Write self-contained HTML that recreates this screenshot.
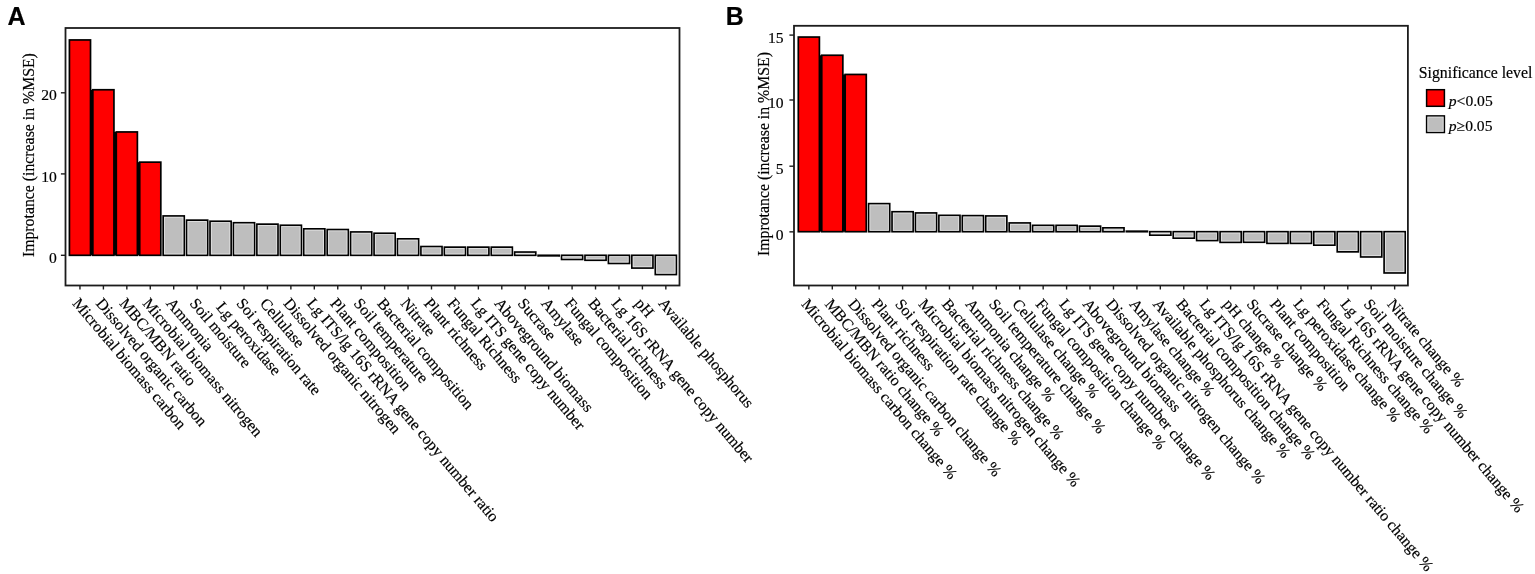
<!DOCTYPE html>
<html><head><meta charset="utf-8"><title>Variable importance</title>
<style>html,body{margin:0;padding:0;background:#fff;}svg text{stroke:#000;stroke-width:0.18px;}body{width:1535px;height:574px;overflow:hidden;}svg{display:block;}</style>
</head><body>
<svg width="1535" height="574" viewBox="0 0 1535 574" font-family="'Liberation Serif','Times New Roman',serif">
<rect width="1535" height="574" fill="#fff"/>
<text x="7.4" y="25.0" font-family="'Liberation Sans',Arial,sans-serif" font-weight="bold" font-size="25">A</text>
<text x="725.8" y="25.0" font-family="'Liberation Sans',Arial,sans-serif" font-weight="bold" font-size="25">B</text>
<g>
<rect x="69.42" y="39.95" width="21.09" height="215.35" fill="#ff0000" stroke="#000" stroke-width="1.7"/>
<rect x="90.51" y="89.75" width="2.34" height="165.55" fill="#000"/>
<rect x="92.85" y="89.75" width="21.09" height="165.55" fill="#ff0000" stroke="#000" stroke-width="1.7"/>
<rect x="113.94" y="131.95" width="2.34" height="123.35" fill="#000"/>
<rect x="116.29" y="131.95" width="21.09" height="123.35" fill="#ff0000" stroke="#000" stroke-width="1.7"/>
<rect x="137.38" y="162.15" width="2.34" height="93.15" fill="#000"/>
<rect x="139.72" y="162.15" width="21.09" height="93.15" fill="#ff0000" stroke="#000" stroke-width="1.7"/>
<rect x="163.16" y="215.95" width="21.09" height="39.35" fill="#bebebe" stroke="#000" stroke-width="1.7"/>
<rect x="164.46" y="217.25" width="18.49" height="36.75" fill="none" stroke="#fff" stroke-opacity="0.55" stroke-width="0.9"/>
<rect x="186.59" y="220.15" width="21.09" height="35.15" fill="#bebebe" stroke="#000" stroke-width="1.7"/>
<rect x="187.89" y="221.45" width="18.49" height="32.55" fill="none" stroke="#fff" stroke-opacity="0.55" stroke-width="0.9"/>
<rect x="210.03" y="221.25" width="21.09" height="34.05" fill="#bebebe" stroke="#000" stroke-width="1.7"/>
<rect x="211.33" y="222.55" width="18.49" height="31.45" fill="none" stroke="#fff" stroke-opacity="0.55" stroke-width="0.9"/>
<rect x="233.46" y="222.75" width="21.09" height="32.55" fill="#bebebe" stroke="#000" stroke-width="1.7"/>
<rect x="234.76" y="224.05" width="18.49" height="29.95" fill="none" stroke="#fff" stroke-opacity="0.55" stroke-width="0.9"/>
<rect x="256.90" y="224.15" width="21.09" height="31.15" fill="#bebebe" stroke="#000" stroke-width="1.7"/>
<rect x="258.20" y="225.45" width="18.49" height="28.55" fill="none" stroke="#fff" stroke-opacity="0.55" stroke-width="0.9"/>
<rect x="280.33" y="225.25" width="21.09" height="30.05" fill="#bebebe" stroke="#000" stroke-width="1.7"/>
<rect x="281.63" y="226.55" width="18.49" height="27.45" fill="none" stroke="#fff" stroke-opacity="0.55" stroke-width="0.9"/>
<rect x="303.77" y="228.85" width="21.09" height="26.45" fill="#bebebe" stroke="#000" stroke-width="1.7"/>
<rect x="305.07" y="230.15" width="18.49" height="23.85" fill="none" stroke="#fff" stroke-opacity="0.55" stroke-width="0.9"/>
<rect x="327.20" y="229.55" width="21.09" height="25.75" fill="#bebebe" stroke="#000" stroke-width="1.7"/>
<rect x="328.50" y="230.85" width="18.49" height="23.15" fill="none" stroke="#fff" stroke-opacity="0.55" stroke-width="0.9"/>
<rect x="350.64" y="231.95" width="21.09" height="23.35" fill="#bebebe" stroke="#000" stroke-width="1.7"/>
<rect x="351.94" y="233.25" width="18.49" height="20.75" fill="none" stroke="#fff" stroke-opacity="0.55" stroke-width="0.9"/>
<rect x="374.07" y="233.25" width="21.09" height="22.05" fill="#bebebe" stroke="#000" stroke-width="1.7"/>
<rect x="375.37" y="234.55" width="18.49" height="19.45" fill="none" stroke="#fff" stroke-opacity="0.55" stroke-width="0.9"/>
<rect x="397.51" y="238.85" width="21.09" height="16.45" fill="#bebebe" stroke="#000" stroke-width="1.7"/>
<rect x="398.81" y="240.15" width="18.49" height="13.85" fill="none" stroke="#fff" stroke-opacity="0.55" stroke-width="0.9"/>
<rect x="420.94" y="246.55" width="21.09" height="8.75" fill="#bebebe" stroke="#000" stroke-width="1.7"/>
<rect x="422.24" y="247.85" width="18.49" height="6.15" fill="none" stroke="#fff" stroke-opacity="0.55" stroke-width="0.9"/>
<rect x="444.38" y="247.15" width="21.09" height="8.15" fill="#bebebe" stroke="#000" stroke-width="1.7"/>
<rect x="445.68" y="248.45" width="18.49" height="5.55" fill="none" stroke="#fff" stroke-opacity="0.55" stroke-width="0.9"/>
<rect x="467.81" y="247.15" width="21.09" height="8.15" fill="#bebebe" stroke="#000" stroke-width="1.7"/>
<rect x="469.11" y="248.45" width="18.49" height="5.55" fill="none" stroke="#fff" stroke-opacity="0.55" stroke-width="0.9"/>
<rect x="491.25" y="247.15" width="21.09" height="8.15" fill="#bebebe" stroke="#000" stroke-width="1.7"/>
<rect x="492.55" y="248.45" width="18.49" height="5.55" fill="none" stroke="#fff" stroke-opacity="0.55" stroke-width="0.9"/>
<rect x="514.68" y="252.05" width="21.09" height="3.25" fill="#bebebe" stroke="#000" stroke-width="1.7"/>
<rect x="515.98" y="253.35" width="18.49" height="0.65" fill="none" stroke="#fff" stroke-opacity="0.55" stroke-width="0.9"/>
<rect x="538.12" y="255.30" width="21.09" height="0.60" fill="#bebebe" stroke="#000" stroke-width="1.7"/>
<rect x="538.97" y="256.15" width="19.39" height="0.20" fill="#fff" fill-opacity="0.55"/>
<rect x="561.55" y="255.30" width="21.09" height="4.15" fill="#bebebe" stroke="#000" stroke-width="1.7"/>
<rect x="562.85" y="256.60" width="18.49" height="1.55" fill="none" stroke="#fff" stroke-opacity="0.55" stroke-width="0.9"/>
<rect x="584.99" y="255.30" width="21.09" height="4.95" fill="#bebebe" stroke="#000" stroke-width="1.7"/>
<rect x="586.29" y="256.60" width="18.49" height="2.35" fill="none" stroke="#fff" stroke-opacity="0.55" stroke-width="0.9"/>
<rect x="608.42" y="255.30" width="21.09" height="8.15" fill="#bebebe" stroke="#000" stroke-width="1.7"/>
<rect x="609.72" y="256.60" width="18.49" height="5.55" fill="none" stroke="#fff" stroke-opacity="0.55" stroke-width="0.9"/>
<rect x="631.86" y="255.30" width="21.09" height="12.75" fill="#bebebe" stroke="#000" stroke-width="1.7"/>
<rect x="633.16" y="256.60" width="18.49" height="10.15" fill="none" stroke="#fff" stroke-opacity="0.55" stroke-width="0.9"/>
<rect x="655.29" y="255.30" width="21.09" height="19.25" fill="#bebebe" stroke="#000" stroke-width="1.7"/>
<rect x="656.59" y="256.60" width="18.49" height="16.65" fill="none" stroke="#fff" stroke-opacity="0.55" stroke-width="0.9"/>
<rect x="65.5" y="28.0" width="614.00" height="257.50" fill="none" stroke="#1c1c1c" stroke-width="1.8"/>
<line x1="79.96" y1="285.5" x2="79.96" y2="289.50" stroke="#1c1c1c" stroke-width="1.4"/>
<line x1="103.40" y1="285.5" x2="103.40" y2="289.50" stroke="#1c1c1c" stroke-width="1.4"/>
<line x1="126.83" y1="285.5" x2="126.83" y2="289.50" stroke="#1c1c1c" stroke-width="1.4"/>
<line x1="150.27" y1="285.5" x2="150.27" y2="289.50" stroke="#1c1c1c" stroke-width="1.4"/>
<line x1="173.70" y1="285.5" x2="173.70" y2="289.50" stroke="#1c1c1c" stroke-width="1.4"/>
<line x1="197.14" y1="285.5" x2="197.14" y2="289.50" stroke="#1c1c1c" stroke-width="1.4"/>
<line x1="220.57" y1="285.5" x2="220.57" y2="289.50" stroke="#1c1c1c" stroke-width="1.4"/>
<line x1="244.01" y1="285.5" x2="244.01" y2="289.50" stroke="#1c1c1c" stroke-width="1.4"/>
<line x1="267.44" y1="285.5" x2="267.44" y2="289.50" stroke="#1c1c1c" stroke-width="1.4"/>
<line x1="290.88" y1="285.5" x2="290.88" y2="289.50" stroke="#1c1c1c" stroke-width="1.4"/>
<line x1="314.31" y1="285.5" x2="314.31" y2="289.50" stroke="#1c1c1c" stroke-width="1.4"/>
<line x1="337.75" y1="285.5" x2="337.75" y2="289.50" stroke="#1c1c1c" stroke-width="1.4"/>
<line x1="361.18" y1="285.5" x2="361.18" y2="289.50" stroke="#1c1c1c" stroke-width="1.4"/>
<line x1="384.62" y1="285.5" x2="384.62" y2="289.50" stroke="#1c1c1c" stroke-width="1.4"/>
<line x1="408.05" y1="285.5" x2="408.05" y2="289.50" stroke="#1c1c1c" stroke-width="1.4"/>
<line x1="431.49" y1="285.5" x2="431.49" y2="289.50" stroke="#1c1c1c" stroke-width="1.4"/>
<line x1="454.92" y1="285.5" x2="454.92" y2="289.50" stroke="#1c1c1c" stroke-width="1.4"/>
<line x1="478.36" y1="285.5" x2="478.36" y2="289.50" stroke="#1c1c1c" stroke-width="1.4"/>
<line x1="501.79" y1="285.5" x2="501.79" y2="289.50" stroke="#1c1c1c" stroke-width="1.4"/>
<line x1="525.23" y1="285.5" x2="525.23" y2="289.50" stroke="#1c1c1c" stroke-width="1.4"/>
<line x1="548.66" y1="285.5" x2="548.66" y2="289.50" stroke="#1c1c1c" stroke-width="1.4"/>
<line x1="572.10" y1="285.5" x2="572.10" y2="289.50" stroke="#1c1c1c" stroke-width="1.4"/>
<line x1="595.53" y1="285.5" x2="595.53" y2="289.50" stroke="#1c1c1c" stroke-width="1.4"/>
<line x1="618.97" y1="285.5" x2="618.97" y2="289.50" stroke="#1c1c1c" stroke-width="1.4"/>
<line x1="642.40" y1="285.5" x2="642.40" y2="289.50" stroke="#1c1c1c" stroke-width="1.4"/>
<line x1="665.84" y1="285.5" x2="665.84" y2="289.50" stroke="#1c1c1c" stroke-width="1.4"/>
<line x1="60.90" y1="255.3" x2="65.5" y2="255.3" stroke="#1c1c1c" stroke-width="1.4"/>
<text x="56.8" y="262.95" text-anchor="end" font-size="15.6">0</text>
<line x1="60.90" y1="173.9" x2="65.5" y2="173.9" stroke="#1c1c1c" stroke-width="1.4"/>
<text x="56.8" y="181.55" text-anchor="end" font-size="15.6">10</text>
<line x1="60.90" y1="92.8" x2="65.5" y2="92.8" stroke="#1c1c1c" stroke-width="1.4"/>
<text x="56.8" y="100.45" text-anchor="end" font-size="15.6">20</text>
</g>
<g>
<rect x="798.31" y="37.05" width="21.09" height="194.65" fill="#ff0000" stroke="#000" stroke-width="1.7"/>
<rect x="819.40" y="55.25" width="2.34" height="176.45" fill="#000"/>
<rect x="821.75" y="55.25" width="21.09" height="176.45" fill="#ff0000" stroke="#000" stroke-width="1.7"/>
<rect x="842.83" y="74.45" width="2.34" height="157.25" fill="#000"/>
<rect x="845.18" y="74.45" width="21.09" height="157.25" fill="#ff0000" stroke="#000" stroke-width="1.7"/>
<rect x="868.61" y="203.65" width="21.09" height="28.05" fill="#bebebe" stroke="#000" stroke-width="1.7"/>
<rect x="869.91" y="204.95" width="18.49" height="25.45" fill="none" stroke="#fff" stroke-opacity="0.55" stroke-width="0.9"/>
<rect x="892.04" y="211.75" width="21.09" height="19.95" fill="#bebebe" stroke="#000" stroke-width="1.7"/>
<rect x="893.34" y="213.05" width="18.49" height="17.35" fill="none" stroke="#fff" stroke-opacity="0.55" stroke-width="0.9"/>
<rect x="915.47" y="212.95" width="21.09" height="18.75" fill="#bebebe" stroke="#000" stroke-width="1.7"/>
<rect x="916.77" y="214.25" width="18.49" height="16.15" fill="none" stroke="#fff" stroke-opacity="0.55" stroke-width="0.9"/>
<rect x="938.90" y="215.35" width="21.09" height="16.35" fill="#bebebe" stroke="#000" stroke-width="1.7"/>
<rect x="940.20" y="216.65" width="18.49" height="13.75" fill="none" stroke="#fff" stroke-opacity="0.55" stroke-width="0.9"/>
<rect x="962.33" y="215.65" width="21.09" height="16.05" fill="#bebebe" stroke="#000" stroke-width="1.7"/>
<rect x="963.63" y="216.95" width="18.49" height="13.45" fill="none" stroke="#fff" stroke-opacity="0.55" stroke-width="0.9"/>
<rect x="985.77" y="215.95" width="21.09" height="15.75" fill="#bebebe" stroke="#000" stroke-width="1.7"/>
<rect x="987.07" y="217.25" width="18.49" height="13.15" fill="none" stroke="#fff" stroke-opacity="0.55" stroke-width="0.9"/>
<rect x="1009.20" y="222.95" width="21.09" height="8.75" fill="#bebebe" stroke="#000" stroke-width="1.7"/>
<rect x="1010.50" y="224.25" width="18.49" height="6.15" fill="none" stroke="#fff" stroke-opacity="0.55" stroke-width="0.9"/>
<rect x="1032.63" y="225.35" width="21.09" height="6.35" fill="#bebebe" stroke="#000" stroke-width="1.7"/>
<rect x="1033.93" y="226.65" width="18.49" height="3.75" fill="none" stroke="#fff" stroke-opacity="0.55" stroke-width="0.9"/>
<rect x="1056.06" y="225.35" width="21.09" height="6.35" fill="#bebebe" stroke="#000" stroke-width="1.7"/>
<rect x="1057.36" y="226.65" width="18.49" height="3.75" fill="none" stroke="#fff" stroke-opacity="0.55" stroke-width="0.9"/>
<rect x="1079.49" y="226.15" width="21.09" height="5.55" fill="#bebebe" stroke="#000" stroke-width="1.7"/>
<rect x="1080.79" y="227.45" width="18.49" height="2.95" fill="none" stroke="#fff" stroke-opacity="0.55" stroke-width="0.9"/>
<rect x="1102.92" y="227.85" width="21.09" height="3.85" fill="#bebebe" stroke="#000" stroke-width="1.7"/>
<rect x="1104.22" y="229.15" width="18.49" height="1.25" fill="none" stroke="#fff" stroke-opacity="0.55" stroke-width="0.9"/>
<rect x="1126.35" y="231.20" width="21.09" height="0.50" fill="#bebebe" stroke="#000" stroke-width="1.7"/>
<rect x="1149.78" y="231.70" width="21.09" height="3.45" fill="#bebebe" stroke="#000" stroke-width="1.7"/>
<rect x="1151.08" y="233.00" width="18.49" height="0.85" fill="none" stroke="#fff" stroke-opacity="0.55" stroke-width="0.9"/>
<rect x="1173.22" y="231.70" width="21.09" height="6.45" fill="#bebebe" stroke="#000" stroke-width="1.7"/>
<rect x="1174.52" y="233.00" width="18.49" height="3.85" fill="none" stroke="#fff" stroke-opacity="0.55" stroke-width="0.9"/>
<rect x="1196.65" y="231.70" width="21.09" height="8.85" fill="#bebebe" stroke="#000" stroke-width="1.7"/>
<rect x="1197.95" y="233.00" width="18.49" height="6.25" fill="none" stroke="#fff" stroke-opacity="0.55" stroke-width="0.9"/>
<rect x="1220.08" y="231.70" width="21.09" height="10.65" fill="#bebebe" stroke="#000" stroke-width="1.7"/>
<rect x="1221.38" y="233.00" width="18.49" height="8.05" fill="none" stroke="#fff" stroke-opacity="0.55" stroke-width="0.9"/>
<rect x="1243.51" y="231.70" width="21.09" height="10.55" fill="#bebebe" stroke="#000" stroke-width="1.7"/>
<rect x="1244.81" y="233.00" width="18.49" height="7.95" fill="none" stroke="#fff" stroke-opacity="0.55" stroke-width="0.9"/>
<rect x="1266.94" y="231.70" width="21.09" height="11.65" fill="#bebebe" stroke="#000" stroke-width="1.7"/>
<rect x="1268.24" y="233.00" width="18.49" height="9.05" fill="none" stroke="#fff" stroke-opacity="0.55" stroke-width="0.9"/>
<rect x="1290.37" y="231.70" width="21.09" height="11.65" fill="#bebebe" stroke="#000" stroke-width="1.7"/>
<rect x="1291.67" y="233.00" width="18.49" height="9.05" fill="none" stroke="#fff" stroke-opacity="0.55" stroke-width="0.9"/>
<rect x="1313.80" y="231.70" width="21.09" height="13.45" fill="#bebebe" stroke="#000" stroke-width="1.7"/>
<rect x="1315.10" y="233.00" width="18.49" height="10.85" fill="none" stroke="#fff" stroke-opacity="0.55" stroke-width="0.9"/>
<rect x="1337.23" y="231.70" width="21.09" height="20.15" fill="#bebebe" stroke="#000" stroke-width="1.7"/>
<rect x="1338.53" y="233.00" width="18.49" height="17.55" fill="none" stroke="#fff" stroke-opacity="0.55" stroke-width="0.9"/>
<rect x="1360.67" y="231.70" width="21.09" height="25.25" fill="#bebebe" stroke="#000" stroke-width="1.7"/>
<rect x="1361.97" y="233.00" width="18.49" height="22.65" fill="none" stroke="#fff" stroke-opacity="0.55" stroke-width="0.9"/>
<rect x="1384.10" y="231.70" width="21.09" height="41.25" fill="#bebebe" stroke="#000" stroke-width="1.7"/>
<rect x="1385.40" y="233.00" width="18.49" height="38.65" fill="none" stroke="#fff" stroke-opacity="0.55" stroke-width="0.9"/>
<rect x="794.0" y="25.8" width="613.90" height="259.70" fill="none" stroke="#1c1c1c" stroke-width="1.8"/>
<line x1="808.86" y1="285.5" x2="808.86" y2="289.50" stroke="#1c1c1c" stroke-width="1.4"/>
<line x1="832.29" y1="285.5" x2="832.29" y2="289.50" stroke="#1c1c1c" stroke-width="1.4"/>
<line x1="855.72" y1="285.5" x2="855.72" y2="289.50" stroke="#1c1c1c" stroke-width="1.4"/>
<line x1="879.15" y1="285.5" x2="879.15" y2="289.50" stroke="#1c1c1c" stroke-width="1.4"/>
<line x1="902.58" y1="285.5" x2="902.58" y2="289.50" stroke="#1c1c1c" stroke-width="1.4"/>
<line x1="926.02" y1="285.5" x2="926.02" y2="289.50" stroke="#1c1c1c" stroke-width="1.4"/>
<line x1="949.45" y1="285.5" x2="949.45" y2="289.50" stroke="#1c1c1c" stroke-width="1.4"/>
<line x1="972.88" y1="285.5" x2="972.88" y2="289.50" stroke="#1c1c1c" stroke-width="1.4"/>
<line x1="996.31" y1="285.5" x2="996.31" y2="289.50" stroke="#1c1c1c" stroke-width="1.4"/>
<line x1="1019.74" y1="285.5" x2="1019.74" y2="289.50" stroke="#1c1c1c" stroke-width="1.4"/>
<line x1="1043.17" y1="285.5" x2="1043.17" y2="289.50" stroke="#1c1c1c" stroke-width="1.4"/>
<line x1="1066.60" y1="285.5" x2="1066.60" y2="289.50" stroke="#1c1c1c" stroke-width="1.4"/>
<line x1="1090.03" y1="285.5" x2="1090.03" y2="289.50" stroke="#1c1c1c" stroke-width="1.4"/>
<line x1="1113.47" y1="285.5" x2="1113.47" y2="289.50" stroke="#1c1c1c" stroke-width="1.4"/>
<line x1="1136.90" y1="285.5" x2="1136.90" y2="289.50" stroke="#1c1c1c" stroke-width="1.4"/>
<line x1="1160.33" y1="285.5" x2="1160.33" y2="289.50" stroke="#1c1c1c" stroke-width="1.4"/>
<line x1="1183.76" y1="285.5" x2="1183.76" y2="289.50" stroke="#1c1c1c" stroke-width="1.4"/>
<line x1="1207.19" y1="285.5" x2="1207.19" y2="289.50" stroke="#1c1c1c" stroke-width="1.4"/>
<line x1="1230.62" y1="285.5" x2="1230.62" y2="289.50" stroke="#1c1c1c" stroke-width="1.4"/>
<line x1="1254.05" y1="285.5" x2="1254.05" y2="289.50" stroke="#1c1c1c" stroke-width="1.4"/>
<line x1="1277.48" y1="285.5" x2="1277.48" y2="289.50" stroke="#1c1c1c" stroke-width="1.4"/>
<line x1="1300.92" y1="285.5" x2="1300.92" y2="289.50" stroke="#1c1c1c" stroke-width="1.4"/>
<line x1="1324.35" y1="285.5" x2="1324.35" y2="289.50" stroke="#1c1c1c" stroke-width="1.4"/>
<line x1="1347.78" y1="285.5" x2="1347.78" y2="289.50" stroke="#1c1c1c" stroke-width="1.4"/>
<line x1="1371.21" y1="285.5" x2="1371.21" y2="289.50" stroke="#1c1c1c" stroke-width="1.4"/>
<line x1="1394.64" y1="285.5" x2="1394.64" y2="289.50" stroke="#1c1c1c" stroke-width="1.4"/>
<line x1="789.40" y1="231.85" x2="794.0" y2="231.85" stroke="#1c1c1c" stroke-width="1.4"/>
<text x="783.6" y="239.50" text-anchor="end" font-size="15.6">0</text>
<line x1="789.40" y1="166.2" x2="794.0" y2="166.2" stroke="#1c1c1c" stroke-width="1.4"/>
<text x="783.6" y="173.85" text-anchor="end" font-size="15.6">5</text>
<line x1="789.40" y1="100.0" x2="794.0" y2="100.0" stroke="#1c1c1c" stroke-width="1.4"/>
<text x="783.6" y="107.65" text-anchor="end" font-size="15.6">10</text>
<line x1="789.40" y1="35.1" x2="794.0" y2="35.1" stroke="#1c1c1c" stroke-width="1.4"/>
<text x="783.6" y="42.75" text-anchor="end" font-size="15.6">15</text>
</g>
<g font-size="15.9">
<text transform="translate(71.81,303.80) rotate(49.7)">Microbial biomass carbon</text>
<text transform="translate(95.25,303.80) rotate(49.7)">Dissolved organic carbon</text>
<text transform="translate(118.68,303.80) rotate(49.7)">MBC/MBN ratio</text>
<text transform="translate(142.12,303.80) rotate(49.7)">Microbial biomass nitrogen</text>
<text transform="translate(165.55,303.80) rotate(49.7)">Ammonia</text>
<text transform="translate(188.99,303.80) rotate(49.7)">Soil moisture</text>
<text transform="translate(215.53,307.46) rotate(49.7)">Lg peroxidase</text>
<text transform="translate(235.86,303.80) rotate(49.7)">Soi respiration rate</text>
<text transform="translate(259.29,303.80) rotate(49.7)">Cellulase</text>
<text transform="translate(282.73,303.80) rotate(49.7)">Dissolved organic nitrogen</text>
<text transform="translate(306.16,303.80) rotate(49.7)">Lg ITS/lg 16S rRNA gene copy number ratio</text>
<text transform="translate(329.60,303.80) rotate(49.7)">Plant composition</text>
<text transform="translate(353.03,303.80) rotate(49.7)">Soil temperature</text>
<text transform="translate(376.47,303.80) rotate(49.7)">Bacterial composition</text>
<text transform="translate(399.90,303.80) rotate(49.7)">Nitrate</text>
<text transform="translate(423.34,303.80) rotate(49.7)">Plant richness</text>
<text transform="translate(446.77,303.80) rotate(49.7)">Fungal Richness</text>
<text transform="translate(470.21,303.80) rotate(49.7)">Lg ITS gene copy number</text>
<text transform="translate(493.64,303.80) rotate(49.7)">Aboveground biomass</text>
<text transform="translate(517.08,303.80) rotate(49.7)">Sucrase</text>
<text transform="translate(540.51,303.80) rotate(49.7)">Amylase</text>
<text transform="translate(563.95,303.80) rotate(49.7)">Fungal composition</text>
<text transform="translate(587.38,303.80) rotate(49.7)">Bacterial richness</text>
<text transform="translate(610.82,303.80) rotate(49.7)">Lg 16S rRNA gene copy number</text>
<text transform="translate(634.25,303.80) rotate(49.7)">pH</text>
<text transform="translate(657.69,303.80) rotate(49.7)">Available phosphorus</text>
</g>
<g font-size="15.8">
<text transform="translate(800.71,304.40) rotate(49.7)">Microbial biomass carbon change %</text>
<text transform="translate(824.14,304.40) rotate(49.7)">MBC/MBN ratio change %</text>
<text transform="translate(847.57,304.40) rotate(49.7)">Dissolved organic carbon change %</text>
<text transform="translate(871.00,304.40) rotate(49.7)">Plant richness</text>
<text transform="translate(894.43,304.40) rotate(49.7)">Soi respiration rate change %</text>
<text transform="translate(917.87,304.40) rotate(49.7)">Microbial biomass nitrogen change %</text>
<text transform="translate(941.30,304.40) rotate(49.7)">Bacterial richness change %</text>
<text transform="translate(964.73,304.40) rotate(49.7)">Ammonia change %</text>
<text transform="translate(988.16,304.40) rotate(49.7)">Soil temperature change %</text>
<text transform="translate(1011.59,304.40) rotate(49.7)">Cellulase change %</text>
<text transform="translate(1035.02,304.40) rotate(49.7)">Fungal composition change %</text>
<text transform="translate(1058.45,304.40) rotate(49.7)">Lg ITS gene copy number change %</text>
<text transform="translate(1081.88,304.40) rotate(49.7)">Aboveground biomass</text>
<text transform="translate(1105.32,304.40) rotate(49.7)">Dissolved organic nitrogen change %</text>
<text transform="translate(1128.75,304.40) rotate(49.7)">Amylase change %</text>
<text transform="translate(1152.18,304.40) rotate(49.7)">Available phosphorus change %</text>
<text transform="translate(1175.61,304.40) rotate(49.7)">Bacterial composition change %</text>
<text transform="translate(1199.04,304.40) rotate(49.7)">Lg ITS/lg 16S rRNA gene copy number ratio change %</text>
<text transform="translate(1222.47,304.40) rotate(49.7)">pH change %</text>
<text transform="translate(1245.90,304.40) rotate(49.7)">Sucrase change %</text>
<text transform="translate(1269.33,304.40) rotate(49.7)">Plant composition</text>
<text transform="translate(1292.77,304.40) rotate(49.7)">Lg peroxidase change %</text>
<text transform="translate(1316.20,304.40) rotate(49.7)">Fungal Richness change %</text>
<text transform="translate(1339.63,304.40) rotate(49.7)">Lg 16S rRNA gene copy number change %</text>
<text transform="translate(1363.06,304.40) rotate(49.7)">Soil moisture change %</text>
<text transform="translate(1386.49,304.40) rotate(49.7)">Nitrate change %</text>
</g>
<text transform="translate(34,155.1) rotate(-90)" text-anchor="middle" font-size="15.8">Improtance (increase in %MSE)</text>
<text transform="translate(769,154) rotate(-90)" text-anchor="middle" font-size="15.8">Improtance (increase in %MSE)</text>
<g>
<text x="1418.8" y="78" font-size="15.8">Significance level</text>
<rect x="1426.6" y="89.7" width="17.8" height="16.6" fill="#ff0000" stroke="#000" stroke-width="1.5"/>
<rect x="1426.6" y="115.9" width="17.8" height="16.6" fill="#bebebe" stroke="#000" stroke-width="1.5"/>
<rect x="1427.8" y="117.1" width="15.4" height="14.2" fill="none" stroke="#fff" stroke-opacity="0.55" stroke-width="0.9"/>
<text x="1448.8" y="106.3" font-size="15.6"><tspan font-style="italic">p</tspan>&lt;0.05</text>
<text x="1448.8" y="131.4" font-size="15.6"><tspan font-style="italic">p</tspan>≥0.05</text>
</g>
</svg>
</body></html>
